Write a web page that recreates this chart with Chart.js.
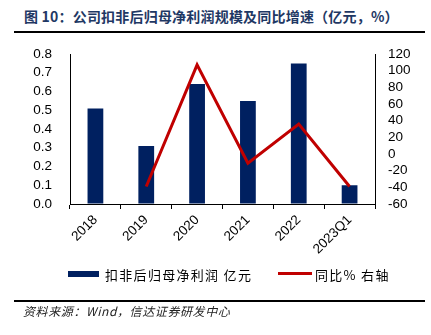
<!DOCTYPE html>
<html>
<head>
<meta charset="utf-8">
<script src="https://cdn.jsdelivr.net/npm/chart.js@4"></script>
<style>
  html, body { margin: 0; padding: 0; background: #fff; }
  #wrap { position: relative; width: 431px; height: 335px; overflow: hidden; }
  #chart { position: absolute; left: 0; top: 0; }
  .title { position: absolute; left: 24px; top: 6px; font: bold 14px "Noto Sans CJK SC", sans-serif; color: #1f3864; white-space: nowrap; letter-spacing: 0.2px; }
  .rule { position: absolute; left: 14px; width: 411px; background: #000; }
  .legend { position: absolute; top: 265px; font: 13px "Noto Sans CJK SC", sans-serif; color: #000; white-space: nowrap; letter-spacing: 1.3px; }
  .swatch { position: absolute; }
  .source { position: absolute; left: 23px; top: 302px; font: italic 12px "Noto Sans CJK SC", sans-serif; color: #222; white-space: nowrap; letter-spacing: 0.6px; }
</style>
</head>
<body>
<div id="wrap">
  <div class="title">图 10：公司扣非后归母净利润规模及同比增速（亿元，%）</div>
  <div class="rule" style="top:31px;height:2px"></div>
  <canvas id="chart" width="431" height="335"></canvas>
  <div class="swatch" style="left:68px;top:271px;width:31px;height:6px;background:#002060"></div>
  <div class="legend" style="left:105px">扣非后归母净利润 亿元</div>
  <div class="swatch" style="left:278px;top:272px;width:34px;height:3px;background:#c00000"></div>
  <div class="legend" style="left:315px">同比% 右轴</div>
  <div class="rule" style="top:300px;height:2px"></div>
  <div class="source">资料来源：Wind，信达证券研发中心</div>
</div>
<script>
const categories = ['2018', '2019', '2020', '2021', '2022', '2023Q1'];
const profitValues = [0.51, 0.31, 0.64, 0.55, 0.75, 0.10];
const growthValues = [null, -39, 107, -11, 36, -39];
const barLabel = '扣非后归母净利润 亿元';
const lineLabel = '同比% 右轴';

const tickFont = { family: '"Liberation Sans", Arial, sans-serif', size: 13.5 };

new Chart(document.getElementById('chart'), {
  type: 'bar',
  data: {
    labels: categories,
    datasets: [
      {
        type: 'line',
        label: lineLabel,
        data: growthValues,
        yAxisID: 'y1',
        borderColor: '#c00000',
        borderWidth: 3,
        pointRadius: 0,
        tension: 0,
        order: 0
      },
      {
        type: 'bar',
        label: barLabel,
        data: profitValues,
        yAxisID: 'y',
        backgroundColor: '#002060',
        barPercentage: 0.31,
        categoryPercentage: 1,
        order: 1
      }
    ]
  },
  options: {
    responsive: false,
    animation: false,
    layout: { padding: { top: 54, bottom: 71, left: 0, right: 0 } },
    plugins: { legend: { display: false }, tooltip: { enabled: false } },
    scales: {
      x: {
        grid: { offset: true, drawOnChartArea: false, drawTicks: true, tickLength: 5, color: '#000' },
        border: { color: '#000', width: 1 },
        ticks: { font: tickFont, color: '#000', minRotation: 45, maxRotation: 45, padding: 3 },
        afterFit(scale) { scale.height = 60; }
      },
      y: {
        position: 'left',
        min: 0,
        max: 0.8,
        grid: { drawOnChartArea: false, drawTicks: false },
        border: { color: '#000', width: 1 },
        ticks: { stepSize: 0.1, autoSkip: false, font: tickFont, color: '#000', padding: 18, callback: v => v.toFixed(1) },
        afterFit(scale) { scale.width = 70; }
      },
      y1: {
        position: 'right',
        min: -60,
        max: 120,
        grid: { drawOnChartArea: false, drawTicks: false },
        border: { color: '#000', width: 1 },
        ticks: { stepSize: 20, autoSkip: false, font: tickFont, color: '#000', padding: 13 },
        afterFit(scale) { scale.width = 56; }
      }
    }
  }
});
</script>
</body>
</html>
